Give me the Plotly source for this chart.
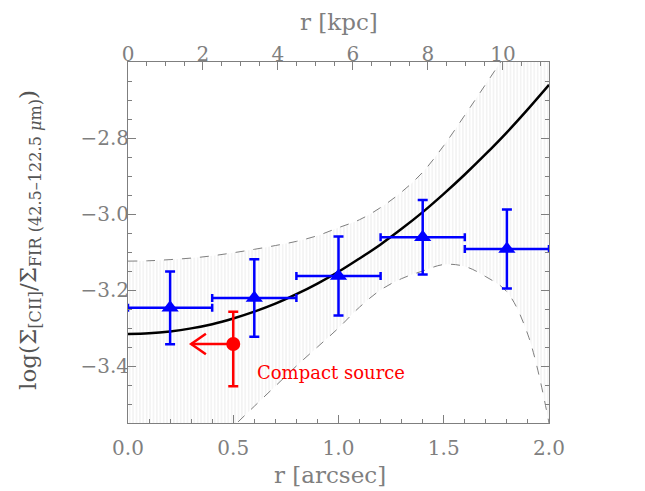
import plotly.graph_objects as go

# радиус в угловых секундах и отношение [CII]/FIR по кольцам
r_arcsec = [0.2, 0.6, 1.0, 1.4, 1.8]
r_halfwidth = [0.2, 0.2, 0.2, 0.2, 0.2]
log_ratio = [-3.247, -3.221, -3.163, -3.061, -3.092]
log_ratio_err = [0.096, 0.102, 0.104, 0.098, 0.104]

# компактный источник (верхний предел по радиусу)
compact_r = [0.5]
compact_ratio = [-3.342]
compact_err_plus = [0.085]
compact_err_minus = [0.111]
compact_arrow = 0.2

# фит и доверительная полоса
fit_r = [0.0, 0.1, 0.2, 0.3, 0.4, 0.5, 0.6, 0.7, 0.8, 0.9, 1.0,
         1.1, 1.2, 1.3, 1.4, 1.5, 1.6, 1.7, 1.8, 1.9, 2.0]
fit_y = [-3.316, -3.314, -3.309, -3.301, -3.290, -3.275, -3.257, -3.236, -3.211, -3.183, -3.152,
         -3.117, -3.080, -3.039, -2.995, -2.947, -2.896, -2.842, -2.785, -2.724, -2.660]
band_upper = [-3.124, -3.123, -3.120, -3.116, -3.110, -3.102, -3.093, -3.083, -3.072, -3.057, -3.036,
              -3.015, -2.983, -2.942, -2.890, -2.820, -2.740, -2.658, -2.575, -2.490, -2.400]
band_lower = [-3.860, -3.800, -3.740, -3.680, -3.620, -3.560, -3.506, -3.453, -3.400, -3.350, -3.300,
              -3.245, -3.200, -3.170, -3.150, -3.133, -3.138, -3.165, -3.205, -3.318, -3.550]

kpc_per_arcsec = 5.615

font = "DejaVu Serif"
grey = "#7f7f7f"

fig = go.Figure()

# полоса: нижняя граница, затем верхняя с заливкой штриховкой
fig.add_trace(go.Scatter(x=fit_r, y=band_lower, mode="lines", line=dict(color=grey, width=1, dash="dash"),
                         line_shape="spline", hoverinfo="skip"))
fig.add_trace(go.Scatter(x=fit_r, y=band_upper, mode="lines", line=dict(color=grey, width=1, dash="dash"),
                         line_shape="spline", fill="tonexty", fillcolor="rgba(0,0,0,0)",
                         fillpattern=dict(shape="|", size=3.4, solidity=0.3, fgcolor="#d9d9d9",
                                          bgcolor="rgba(255,255,255,0)"),
                         hoverinfo="skip"))

fig.add_trace(go.Scatter(x=fit_r, y=fit_y, mode="lines", line=dict(color="black", width=2.5),
                         line_shape="spline"))

# стрелка верхнего предела для компактного источника
ax0, ay0 = compact_r[0], compact_ratio[0]
tip = ax0 - compact_arrow
fig.add_trace(go.Scatter(x=[ax0, tip, None, tip + 0.07, tip, tip + 0.07],
                         y=[ay0, ay0, None, ay0 + 0.027, ay0, ay0 - 0.027],
                         mode="lines", line=dict(color="red", width=2.5)))

fig.add_trace(go.Scatter(x=compact_r, y=compact_ratio, mode="markers",
                         marker=dict(symbol="circle", size=14, color="red"),
                         error_y=dict(type="data", symmetric=False, array=compact_err_plus,
                                      arrayminus=compact_err_minus, color="red", thickness=2.5, width=5)))

fig.add_trace(go.Scatter(x=r_arcsec, y=log_ratio, mode="markers",
                         marker=dict(symbol="triangle-up", size=15, color="blue"),
                         error_y=dict(type="data", array=log_ratio_err, color="blue", thickness=2.5, width=5),
                         error_x=dict(type="data", array=r_halfwidth, color="blue", thickness=2.5, width=4)))

# пустой след для верхней оси kpc
fig.add_trace(go.Scatter(x=[0], y=[-3.0], xaxis="x2", mode="markers", marker=dict(opacity=0),
                         hoverinfo="skip"))

fig.add_annotation(x=0.603, y=-3.416, text="Compact source", showarrow=False, xanchor="left",
                   font=dict(family=font, size=18, color="red"))

# подписи осей
fig.add_annotation(xref="paper", yref="paper", x=0.48, y=-0.145, text="r [arcsec]", showarrow=False,
                   xanchor="center", yanchor="middle", font=dict(family=font, size=23, color=grey))
fig.add_annotation(xref="paper", yref="paper", x=0.5, y=1.11, text="r [kpc]", showarrow=False,
                   xanchor="center", yanchor="middle", font=dict(family=font, size=23, color=grey))
fig.add_annotation(xref="paper", yref="paper", x=-0.233, y=0.507, textangle=-90, showarrow=False,
                   xanchor="center", yanchor="middle",
                   text="log(\u03a3<sub>[CII]</sub>/\u03a3<sub>FIR (42.5\u2013122.5 <i>\u03bc</i>m)</sub>)",
                   font=dict(family=font, size=23, color="#555555"))

axis_common = dict(showline=True, linecolor=grey, linewidth=1, ticks="inside", tickcolor=grey,
                   showgrid=False, zeroline=False, automargin=False,
                   tickfont=dict(family=font, size=20, color=grey))

# поля сдвинуты на 8px: у страницы есть отступ body
fig.update_layout(
    width=645, height=491,
    margin=dict(l=120, r=104, t=54, b=76),
    plot_bgcolor="white", paper_bgcolor="white",
    showlegend=False,
    xaxis=dict(axis_common, range=[0, 2.0], tickvals=[0, 0.5, 1.0, 1.5, 2.0],
               ticktext=["0.0", "0.5", "1.0", "1.5", "2.0"], ticklen=8, ticklabelstandoff=7,
               minor=dict(dtick=0.1, ticks="inside", ticklen=4, tickcolor=grey)),
    xaxis2=dict(axis_common, overlaying="x", side="top", range=[0, 2.0 * kpc_per_arcsec],
                tickvals=[0, 2, 4, 6, 8, 10], ticklen=8, ticklabelstandoff=-8,
                minor=dict(dtick=0.5, ticks="inside", ticklen=4, tickcolor=grey)),
    yaxis=dict(axis_common, range=[-3.55, -2.6], tickvals=[-3.4, -3.2, -3.0, -2.8],
               ticktext=["\u22123.4", "\u22123.2", "\u22123.0", "\u22122.8"], ticklen=8, mirror="ticks",
               ticklabelstandoff=-6,
               minor=dict(dtick=0.05, ticks="inside", ticklen=4, tickcolor=grey)),
)

fig.write_html("out.html")
